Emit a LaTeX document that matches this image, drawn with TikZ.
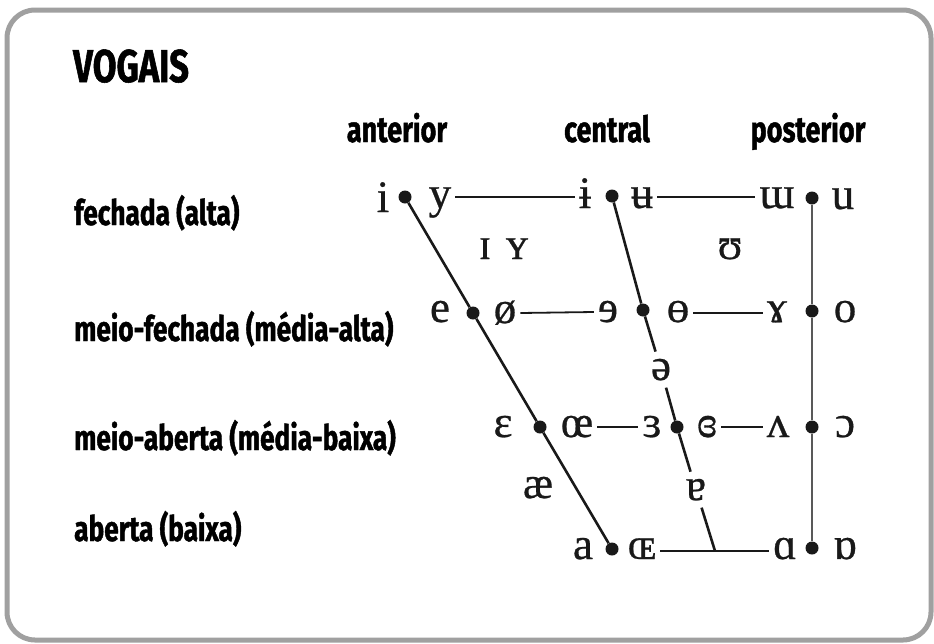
\documentclass[tikz,border=0pt]{standalone}
\usepackage{fontspec}
\setmainfont{Fira Sans}[FakeStretch=0.75, BoldFeatures={FakeBold=1.2}]
\newfontfamily\ipa{Liberation Serif}[FakeBold=0.6]
\definecolor{frame}{RGB}{160,160,160}
\definecolor{ink}{RGB}{25,25,25}
\begin{document}
\begin{tikzpicture}[x=1pt,y=-1pt,
  sym/.style={font=\ipa\fontsize{45}{45}\selectfont, inner xsep=4pt, inner ysep=0pt, anchor=base, text=ink},
  gapsym/.style={sym, inner ysep=7pt, inner xsep=2pt},
  lab/.style={font=\bfseries\fontsize{36}{36}\selectfont, inner sep=0pt},
  dot/.style={circle, fill=ink, inner sep=0pt, minimum size=13pt},
  slant/.style={line width=2.6pt, ink},
  hline/.style={line width=1.8pt, ink},
  vline/.style={line width=2.4pt, black!65}]
\path[use as bounding box] (0,0) rectangle (934,643);
\draw[line width=5pt, frame, rounded corners=28pt] (7,10) rectangle (931,640);
% labels
\node[lab, anchor=base west, font=\bfseries\fontsize{46}{46}\selectfont] (title) at (73,82) {VOGAIS};
\node[lab, anchor=base] (ant) at (397,142) {anterior};
\node[lab, anchor=base] (cen) at (607,142) {central};
\node[lab, anchor=base] (pos) at (808,142) {posterior};
\node[lab, anchor=base west, font=\bfseries\fontsize{35}{35}\selectfont] (l1) at (74,225) {fechada (alta)};
\node[lab, anchor=base west, font=\bfseries\fontsize{35}{35}\selectfont] (l2) at (74,341) {meio-fechada (média-alta)};
\node[lab, anchor=base west, font=\bfseries\fontsize{35}{35}\selectfont] (l3) at (74,450) {meio-aberta (média-baixa)};
\node[lab, anchor=base west, font=\bfseries\fontsize{35}{35}\selectfont] (l4) at (74,541) {aberta (baixa)};
% dots
\node[dot] (dL1) at (405,197) {};
\node[dot] (dL2) at (473,313) {};
\node[dot] (dL3) at (540,427) {};
\node[dot] (dL4) at (612,549) {};
\node[dot] (dC1) at (612,196) {};
\node[dot] (dC2) at (643,310) {};
\node[dot] (dC3) at (677,427) {};
\node[dot] (dR1) at (812,198) {};
\node[dot] (dR2) at (812,311) {};
\node[dot] (dR3) at (812,427) {};
\node[dot] (dR4) at (812,548) {};
% row 1 (baseline)
\node[sym] (ni) at (383,212) {i};
\node[sym] (ny) at (440,208) {y};
\node[sym] (nbi) at (585,208) {ɨ};
\node[sym] (nbu) at (642,208) {ʉ};
\node[sym] (nmw) at (777,208) {ɯ};
\node[sym] (nu) at (843,209) {u};
\node[sym] (nI) at (485,259) {ɪ};
\node[sym] (nY) at (517,259) {ʏ};
\node[sym] (nU) at (730,259) {ʊ};
% row 2
\node[sym] (ne) at (440,322) {e};
\node[sym] (noe) at (505,323) {ø};
\node[sym] (nre) at (608,322) {ɘ};
\node[sym] (nbo) at (678,322) {ɵ};
\node[sym] (nrg) at (777,322) {ɤ};
\node[sym] (no) at (845,322) {o};
\node[gapsym] (nschwa) at (661,380) {ə};
% row 3
\node[sym] (neps) at (503,437) {ɛ};
\node[sym] (noel) at (577,437) {œ};
\node[sym] (nrev) at (652,437) {ɜ};
\node[sym] (nce) at (707,437) {ɞ};
\node[sym] (nv) at (778,437) {ʌ};
\node[sym] (nopo) at (845,437) {ɔ};
\node[sym] (nae) at (538,498) {æ};
\node[gapsym] (nta) at (696,500) {ɐ};
% row 4
\node[sym] (na) at (583,559) {a};
\node[sym] (noeb) at (642,559) {ɶ};
\node[sym] (nsa) at (785,559) {ɑ};
\node[sym] (nta2) at (845,559) {ɒ};
\coordinate (cb) at (715,551);
% connectors
\draw[slant] (dL1) -- (dL2) -- (dL3) -- (dL4);
\draw[slant] (dC1) -- (dC2) -- (nschwa) -- (dC3) -- (nta) -- (cb);
\draw[vline] (dR1) -- (dR2) -- (dR3) -- (dR4);
\draw[hline] ([yshift=11pt]ny.base east) -- ([yshift=11pt]nbi.base west);
\draw[hline] ([yshift=11pt]nbu.base east) -- ([yshift=11pt]nmw.base west);
\draw[hline] ([yshift=10pt]noe.base east) -- ([yshift=10pt]nre.base west);
\draw[hline] ([yshift=9pt]nbo.base east) -- ([yshift=9pt]nrg.base west);
\draw[hline] ([yshift=10pt]noel.base east) -- ([yshift=10pt]nrev.base west);
\draw[hline] ([yshift=10pt]nce.base east) -- ([yshift=10pt]nv.base west);
\draw[hline] ([yshift=8pt]noeb.base east) -- ([yshift=8pt]nsa.base west);
\end{tikzpicture}
\end{document}
